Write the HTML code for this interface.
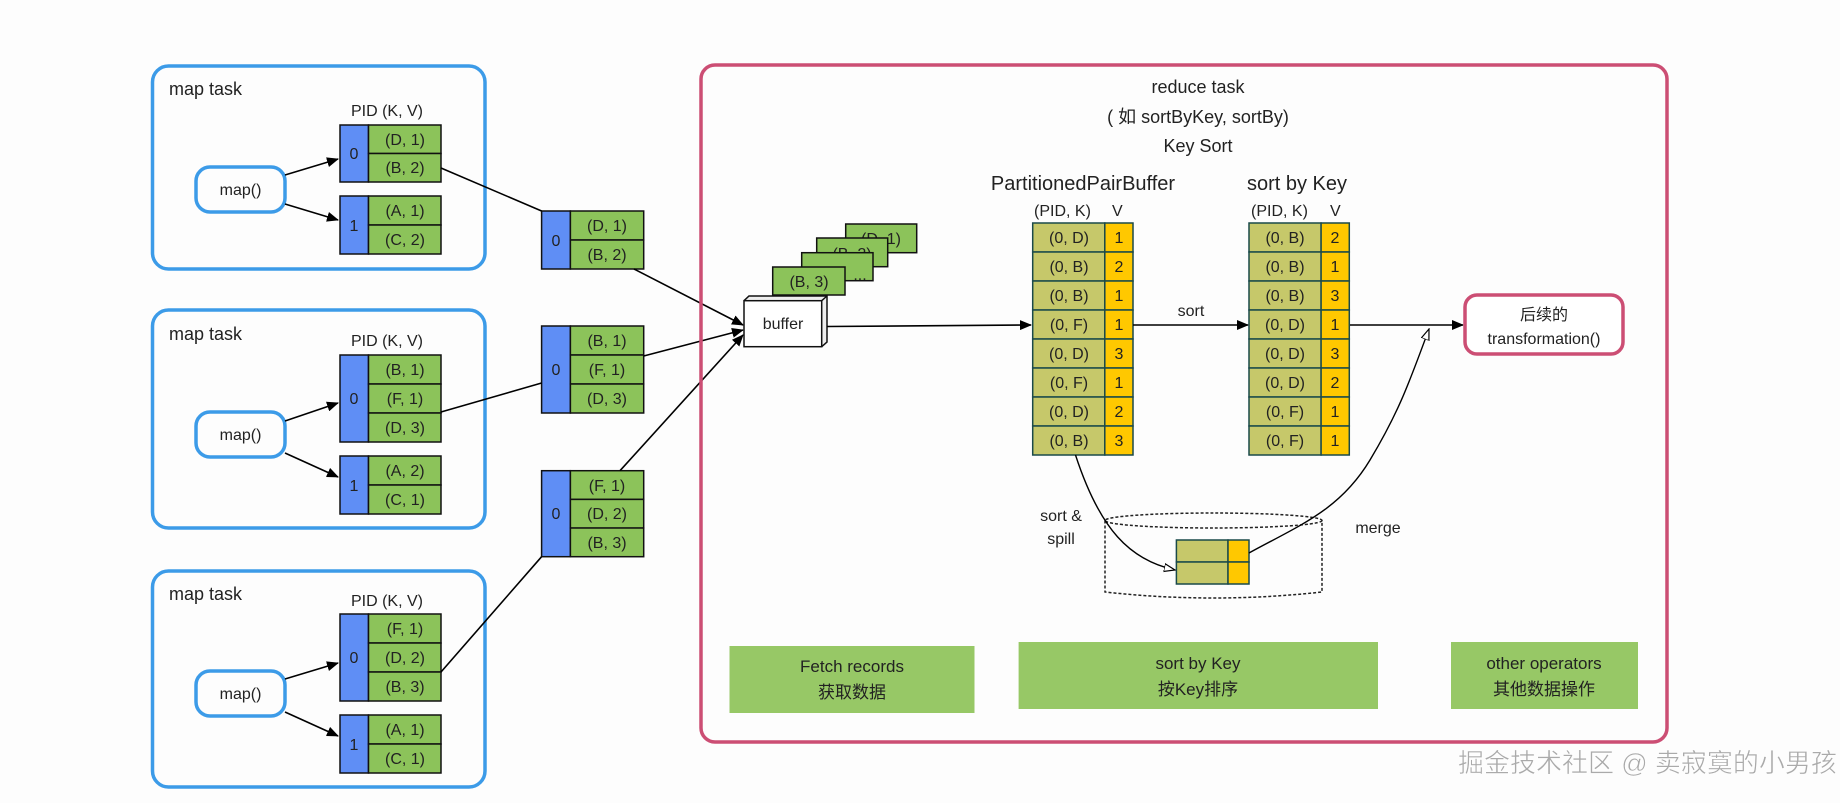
<!DOCTYPE html>
<html><head><meta charset="utf-8"><style>
html,body{margin:0;padding:0;background:#fdfdfd;}
svg{display:block;}
text{font-family:"Liberation Sans","Noto Sans CJK SC",sans-serif;fill:#222;}
</style></head><body>
<svg width="1840" height="803" viewBox="0 0 1840 803" xmlns="http://www.w3.org/2000/svg">
<defs>
<marker id="a" markerWidth="12" markerHeight="10" refX="11" refY="5" orient="auto" markerUnits="userSpaceOnUse"><path d="M0,0 L12,5 L0,10 z" fill="#000"/></marker>
<marker id="o" markerWidth="12" markerHeight="10" refX="11" refY="5" orient="auto" markerUnits="userSpaceOnUse"><path d="M0,1 L11,5 L0,9 z" fill="#fff" stroke="#000" stroke-width="1.2"/></marker>
</defs>
<rect width="1840" height="803" fill="#fdfdfd"/>

<g fill="none" stroke="#3c9be8" stroke-width="3.5">
<rect x="152.5" y="66" width="332.5" height="203" rx="16"/>
<rect x="152.5" y="310" width="332.5" height="218" rx="16"/>
<rect x="152.5" y="571" width="332.5" height="216" rx="16"/>
<rect x="196" y="167" width="89" height="45" rx="14"/>
<rect x="196" y="412" width="89" height="45" rx="14"/>
<rect x="196" y="671" width="89" height="45" rx="14"/>
</g>
<g font-size="18">
<text x="169" y="95">map task</text>
<text x="169" y="340">map task</text>
<text x="169" y="600">map task</text>
</g>
<g font-size="16" text-anchor="middle">
<text x="240.5" y="195">map()</text>
<text x="240.5" y="440">map()</text>
<text x="240.5" y="699">map()</text>
<text x="387" y="116">PID  (K, V)</text>
<text x="387" y="346">PID  (K, V)</text>
<text x="387" y="606">PID  (K, V)</text>
</g>

<g stroke="#111" stroke-width="1.5">
<rect x="340" y="125" width="28.5" height="57" fill="#5f8ef5"/>
<rect x="368.5" y="125" width="72.5" height="28.5" fill="#8cc35a"/>
<rect x="368.5" y="153.5" width="72.5" height="28.5" fill="#8cc35a"/>
<rect x="340" y="196" width="28.5" height="58" fill="#5f8ef5"/>
<rect x="368.5" y="196" width="72.5" height="29" fill="#8cc35a"/>
<rect x="368.5" y="225" width="72.5" height="29" fill="#8cc35a"/>
<rect x="340" y="355" width="28.5" height="87" fill="#5f8ef5"/>
<rect x="368.5" y="355" width="72.5" height="29" fill="#8cc35a"/>
<rect x="368.5" y="384" width="72.5" height="29" fill="#8cc35a"/>
<rect x="368.5" y="413" width="72.5" height="29" fill="#8cc35a"/>
<rect x="340" y="456" width="28.5" height="58" fill="#5f8ef5"/>
<rect x="368.5" y="456" width="72.5" height="29" fill="#8cc35a"/>
<rect x="368.5" y="485" width="72.5" height="29" fill="#8cc35a"/>
<rect x="340" y="614" width="28.5" height="87" fill="#5f8ef5"/>
<rect x="368.5" y="614" width="72.5" height="29" fill="#8cc35a"/>
<rect x="368.5" y="643" width="72.5" height="29" fill="#8cc35a"/>
<rect x="368.5" y="672" width="72.5" height="29" fill="#8cc35a"/>
<rect x="340" y="715" width="28.5" height="58" fill="#5f8ef5"/>
<rect x="368.5" y="715" width="72.5" height="29" fill="#8cc35a"/>
<rect x="368.5" y="744" width="72.5" height="29" fill="#8cc35a"/>
<rect x="541.6" y="211" width="28.8" height="58" fill="#5f8ef5"/>
<rect x="570.4" y="211" width="73.3" height="29" fill="#8cc35a"/>
<rect x="570.4" y="240" width="73.3" height="29" fill="#8cc35a"/>
<rect x="541.6" y="326" width="28.8" height="87" fill="#5f8ef5"/>
<rect x="570.4" y="326" width="73.3" height="29" fill="#8cc35a"/>
<rect x="570.4" y="355" width="73.3" height="29" fill="#8cc35a"/>
<rect x="570.4" y="384" width="73.3" height="29" fill="#8cc35a"/>
<rect x="541.6" y="470.7" width="28.8" height="86" fill="#5f8ef5"/>
<rect x="570.4" y="470.7" width="73.3" height="28.7" fill="#8cc35a"/>
<rect x="570.4" y="499.4" width="73.3" height="28.7" fill="#8cc35a"/>
<rect x="570.4" y="528" width="73.3" height="28.7" fill="#8cc35a"/>
</g>
<g font-size="16" text-anchor="middle">
<text x="354" y="159">0</text><text x="405" y="145">(D, 1)</text><text x="405" y="173">(B, 2)</text>
<text x="354" y="231">1</text><text x="405" y="216">(A, 1)</text><text x="405" y="245">(C, 2)</text>
<text x="354" y="404">0</text><text x="405" y="375">(B, 1)</text><text x="405" y="404">(F, 1)</text><text x="405" y="433">(D, 3)</text>
<text x="354" y="491">1</text><text x="405" y="476">(A, 2)</text><text x="405" y="505">(C, 1)</text>
<text x="354" y="663">0</text><text x="405" y="634">(F, 1)</text><text x="405" y="663">(D, 2)</text><text x="405" y="692">(B, 3)</text>
<text x="354" y="750">1</text><text x="405" y="735">(A, 1)</text><text x="405" y="764">(C, 1)</text>
<text x="556" y="246">0</text><text x="607" y="231">(D, 1)</text><text x="607" y="260">(B, 2)</text>
<text x="556" y="375">0</text><text x="607" y="346">(B, 1)</text><text x="607" y="375">(F, 1)</text><text x="607" y="404">(D, 3)</text>
<text x="556" y="519">0</text><text x="607" y="491">(F, 1)</text><text x="607" y="519">(D, 2)</text><text x="607" y="548">(B, 3)</text>
</g>

<g stroke="#000" stroke-width="1.6" fill="none">
<line x1="285" y1="175" x2="338" y2="159" marker-end="url(#a)"/>
<line x1="285" y1="204" x2="338" y2="220" marker-end="url(#a)"/>
<line x1="285" y1="421" x2="338" y2="403" marker-end="url(#a)"/>
<line x1="285" y1="453" x2="338" y2="477" marker-end="url(#a)"/>
<line x1="285" y1="679" x2="338" y2="663" marker-end="url(#a)"/>
<line x1="285" y1="712" x2="338" y2="736" marker-end="url(#a)"/>
<line x1="441" y1="168" x2="541.6" y2="211"/>
<line x1="441" y1="412" x2="541.6" y2="383"/>
<line x1="441" y1="672" x2="541.6" y2="556.7"/>
<line x1="634" y1="269" x2="743" y2="325" marker-end="url(#a)"/>
<line x1="643.7" y1="356" x2="743" y2="330" marker-end="url(#a)"/>
<line x1="620" y1="470.7" x2="743" y2="335" marker-end="url(#a)"/>
</g>

<rect x="701" y="65" width="966" height="677" rx="14" fill="none" stroke="#cc4e74" stroke-width="3.5"/>
<g text-anchor="middle" font-size="18">
<text x="1198" y="93">reduce task</text>
<text x="1198" y="123">( 如 sortByKey, sortBy)</text>
<text x="1198" y="152">Key Sort</text>
</g>
<g text-anchor="middle" font-size="20">
<text x="1083" y="190">PartitionedPairBuffer</text>
<text x="1297" y="190">sort by Key</text>
</g>
<g font-size="16">
<text x="1034" y="216">(PID, K)</text><text x="1112" y="216">V</text>
<text x="1251" y="216">(PID, K)</text><text x="1330" y="216">V</text>
</g>

<!-- cards + buffer, interleaved -->
<g font-size="16" text-anchor="middle">
<rect x="845.7" y="224" width="71" height="28.7" fill="#8cc35a" stroke="#111" stroke-width="1.5"/>
<text x="881" y="244">(D, 1)</text>
<rect x="816.7" y="238" width="71" height="28.7" fill="#8cc35a" stroke="#111" stroke-width="1.5"/>
<text x="852" y="259">(B, 2)</text>
<rect x="801.7" y="252.7" width="71.3" height="28" fill="#8cc35a" stroke="#111" stroke-width="1.5"/>
<text x="860" y="280">...</text>
<rect x="772.7" y="267" width="72.3" height="28" fill="#8cc35a" stroke="#111" stroke-width="1.5"/>
<text x="809" y="287">(B, 3)</text>
</g>
<g stroke="#111" stroke-width="1.5">
<path d="M744,300.7 L749,296 L827,296 L827,342 L821.7,346.7" fill="#eee"/>
<line x1="821.7" y1="300.7" x2="827" y2="296"/>
<rect x="744" y="300.7" width="77.7" height="46" fill="#fff"/>
</g>
<text x="783" y="329" font-size="16" text-anchor="middle">buffer</text>

<g stroke="#1a4a4a" stroke-width="1.5">
<g id="t1">
<rect x="1032.7" y="223" width="72.1" height="29" fill="#c6c86a"/><rect x="1104.8" y="223" width="28.2" height="29" fill="#ffc800"/>
<rect x="1032.7" y="252" width="72.1" height="29" fill="#c6c86a"/><rect x="1104.8" y="252" width="28.2" height="29" fill="#ffc800"/>
<rect x="1032.7" y="281" width="72.1" height="29" fill="#c6c86a"/><rect x="1104.8" y="281" width="28.2" height="29" fill="#ffc800"/>
<rect x="1032.7" y="310" width="72.1" height="29" fill="#c6c86a"/><rect x="1104.8" y="310" width="28.2" height="29" fill="#ffc800"/>
<rect x="1032.7" y="339" width="72.1" height="29" fill="#c6c86a"/><rect x="1104.8" y="339" width="28.2" height="29" fill="#ffc800"/>
<rect x="1032.7" y="368" width="72.1" height="29" fill="#c6c86a"/><rect x="1104.8" y="368" width="28.2" height="29" fill="#ffc800"/>
<rect x="1032.7" y="397" width="72.1" height="29" fill="#c6c86a"/><rect x="1104.8" y="397" width="28.2" height="29" fill="#ffc800"/>
<rect x="1032.7" y="426" width="72.1" height="29" fill="#c6c86a"/><rect x="1104.8" y="426" width="28.2" height="29" fill="#ffc800"/>
</g>
<use href="#t1" x="216.3"/>
</g>
<g font-size="16" text-anchor="middle">
<text x="1069" y="243">(0, D)</text><text x="1119" y="243">1</text>
<text x="1069" y="272">(0, B)</text><text x="1119" y="272">2</text>
<text x="1069" y="301">(0, B)</text><text x="1119" y="301">1</text>
<text x="1069" y="330">(0, F)</text><text x="1119" y="330">1</text>
<text x="1069" y="359">(0, D)</text><text x="1119" y="359">3</text>
<text x="1069" y="388">(0, F)</text><text x="1119" y="388">1</text>
<text x="1069" y="417">(0, D)</text><text x="1119" y="417">2</text>
<text x="1069" y="446">(0, B)</text><text x="1119" y="446">3</text>
<text x="1285" y="243">(0, B)</text><text x="1335" y="243">2</text>
<text x="1285" y="272">(0, B)</text><text x="1335" y="272">1</text>
<text x="1285" y="301">(0, B)</text><text x="1335" y="301">3</text>
<text x="1285" y="330">(0, D)</text><text x="1335" y="330">1</text>
<text x="1285" y="359">(0, D)</text><text x="1335" y="359">3</text>
<text x="1285" y="388">(0, D)</text><text x="1335" y="388">2</text>
<text x="1285" y="417">(0, F)</text><text x="1335" y="417">1</text>
<text x="1285" y="446">(0, F)</text><text x="1335" y="446">1</text>
<text x="1191" y="316">sort</text>
</g>

<g stroke="#000" stroke-width="1.6" fill="none">
<line x1="827" y1="326.5" x2="1031" y2="325" marker-end="url(#a)"/>
<line x1="1133" y1="325" x2="1248" y2="325" marker-end="url(#a)"/>
<line x1="1350" y1="325" x2="1463" y2="325" marker-end="url(#a)"/>
</g>

<rect x="1465" y="295" width="158" height="59" rx="12" fill="#fff" stroke="#cc4e74" stroke-width="3.5"/>
<g font-size="16" text-anchor="middle">
<text x="1544" y="320">后续的</text>
<text x="1544" y="344">transformation()</text>
</g>

<g fill="none" stroke="#222" stroke-width="1.5" stroke-dasharray="3,2">
<ellipse cx="1213.5" cy="520.5" rx="108.5" ry="7.5"/>
<path d="M1105,520.5 L1105,592 Q1213.5,604 1322,592 L1322,520.5"/>
</g>
<g stroke="#1a4a4a" stroke-width="1.5">
<rect x="1176.4" y="540" width="51.6" height="22" fill="#c6c86a"/><rect x="1228" y="540" width="21" height="22" fill="#ffc800"/>
<rect x="1176.4" y="562" width="51.6" height="22" fill="#c6c86a"/><rect x="1228" y="562" width="21" height="22" fill="#ffc800"/>
</g>
<g stroke="#000" stroke-width="1.4" fill="none">
<path d="M1075.5,455 C1100,530 1130,560 1175,570" marker-end="url(#o)"/>
<path d="M1249,553 C1300,525 1340,510 1370,460 C1400,410 1410,380 1429,329" marker-end="url(#o)"/>
</g>
<g font-size="16" text-anchor="middle">
<text x="1061" y="521">sort &amp;</text>
<text x="1061" y="544">spill</text>
<text x="1378" y="533">merge</text>
</g>

<rect x="729.5" y="646" width="245" height="67" fill="#97c866"/>
<rect x="1018.6" y="642" width="359.4" height="67" fill="#97c866"/>
<rect x="1451" y="642" width="187" height="67" fill="#97c866"/>
<g font-size="17" text-anchor="middle">
<text x="852" y="672">Fetch records</text><text x="852" y="698">获取数据</text>
<text x="1198" y="669">sort by Key</text><text x="1198" y="695">按Key排序</text>
<text x="1544" y="669">other operators</text><text x="1544" y="695">其他数据操作</text>
</g>

<text x="1458" y="772" font-size="26" stroke="#fff" stroke-width="0.5" style="fill:#aaa">掘金技术社区 @ 卖寂寞的小男孩</text>
</svg>
</body></html>
